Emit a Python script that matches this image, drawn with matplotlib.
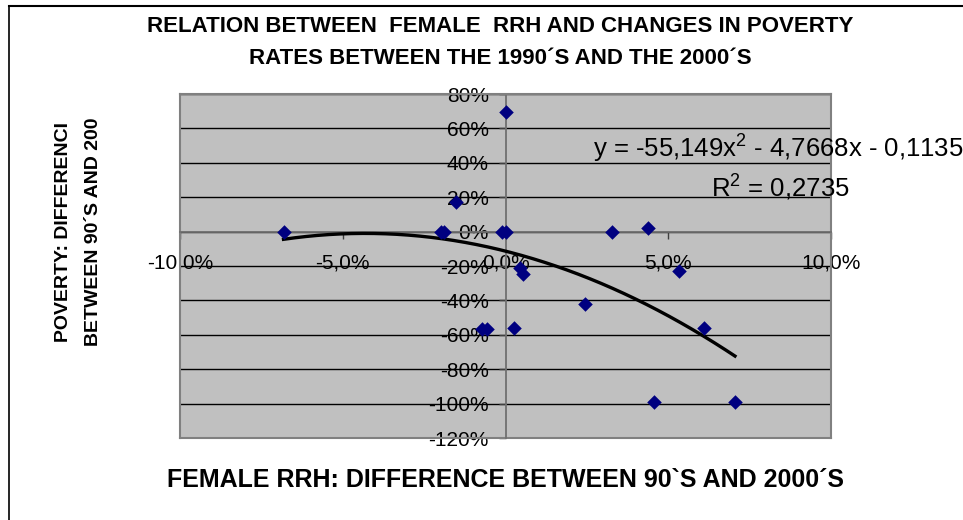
import numpy as np
import matplotlib
matplotlib.use("Agg")
import matplotlib.pyplot as plt
from matplotlib.lines import Line2D
from matplotlib.ticker import FuncFormatter

plt.rcParams['font.family'] = ['Liberation Sans', 'DejaVu Sans']
plt.rcParams['mathtext.fontset'] = 'custom'
plt.rcParams['mathtext.rm'] = 'Liberation Sans'

# change in female RRH (x) vs change in poverty rate (y), as fractions
rrh_change = [-0.0682, -0.0199, -0.0189, -0.0153, -0.0010, 0.0002, 0.0,
              0.0045, 0.0053, 0.0245, -0.0072, -0.0056, 0.0025,
              0.0327, 0.0437, 0.0532, 0.0609, 0.0455, 0.0705]
poverty_change = [0.0, 0.0, 0.0, 0.17, 0.0, 0.0, 0.694,
                  -0.21, -0.245, -0.42, -0.567, -0.567, -0.56,
                  0.0, 0.021, -0.227, -0.562, -0.992, -0.992]

# polynomial trendline (order 2) as shown on the chart
trend_coef = [-55.149, -4.7668, -0.1135]
r_squared = "0,2735"

x_ticks = [-0.10, -0.05, 0.0, 0.05, 0.10]
y_ticks = [0.8, 0.6, 0.4, 0.2, 0.0, -0.2, -0.4, -0.6, -0.8, -1.0, -1.2]

fig = plt.figure(figsize=(9.63, 5.2), dpi=100)
ax = fig.add_axes([180 / 963, 1 - 438 / 520, 651 / 963, 344 / 520])

ax.set_facecolor('#c0c0c0')
ax.set_xlim(-0.10, 0.10)
ax.set_ylim(-1.2, 0.8)

for yv in y_ticks:
    ax.axhline(yv, color='black', lw=1.0, zorder=1)

xs = np.linspace(min(rrh_change), max(rrh_change), 200)
ax.plot(xs, np.polyval(trend_coef, xs), color='black', lw=2.4, zorder=3)
ax.scatter(rrh_change, poverty_change, marker='D', s=55, color='#000080',
           zorder=4, linewidths=0)

for side in ['top', 'right']:
    ax.spines[side].set_color('#808080')
    ax.spines[side].set_linewidth(1.5)
ax.spines['left'].set_position(('data', 0))
ax.spines['bottom'].set_position(('data', 0))
ax.spines['left'].set_color('#707070')
ax.spines['bottom'].set_color('#707070')
ax.spines['left'].set_linewidth(1.3)
ax.spines['bottom'].set_linewidth(1.3)
# outer border of plot area
ax.add_line(Line2D([0, 0], [0, 1], transform=ax.transAxes, color='#808080', lw=1.5, clip_on=False))
ax.add_line(Line2D([0, 1], [0, 0], transform=ax.transAxes, color='#808080', lw=1.5, clip_on=False))

ax.set_xticks(x_ticks)
ax.set_yticks(y_ticks)
ax.xaxis.set_major_formatter(FuncFormatter(lambda v, p: ('%.1f%%' % (v * 100)).replace('.', ',')))
ax.yaxis.set_major_formatter(FuncFormatter(lambda v, p: '%d%%' % round(v * 100)))
ax.tick_params(axis='x', direction='out', length=5, width=1, color='#404040',
               labelsize=15, pad=11)
ax.tick_params(axis='y', direction='out', length=5, width=1, color='#404040',
               labelsize=15, pad=7)

fig.text(593 / 963, 1 - 148 / 520, "y = -55,149x$^2$ - 4,7668x - 0,1135", fontsize=18.5,
         ha='left', va='center', zorder=5)
fig.text(850 / 963, 1 - 187 / 520, "R$^2$ = " + r_squared, fontsize=18.5,
         ha='right', va='center', zorder=5)

fig.text(500 / 963, 1 - 27 / 520, "RELATION BETWEEN  FEMALE  RRH AND CHANGES IN POVERTY",
         ha='center', va='center', fontsize=16, fontweight='bold')
fig.text(500 / 963, 1 - 59 / 520, "RATES BETWEEN THE 1990\u00b4S AND THE 2000\u00b4S",
         ha='center', va='center', fontsize=16, fontweight='bold')
fig.text(505 / 963, 1 - 480 / 520, "FEMALE RRH: DIFFERENCE BETWEEN 90`S AND 2000\u00b4S",
         ha='center', va='center', fontsize=18, fontweight='bold')
fig.text(64 / 963, 1 - 232 / 520, "POVERTY: DIFFERENCI", rotation=90,
         ha='center', va='center', fontsize=14, fontweight='bold')
fig.text(93 / 963, 1 - 232 / 520, "BETWEEN 90\u00b4S AND 200", rotation=90,
         ha='center', va='center', fontsize=14, fontweight='bold')

# chart frame (left and top edges visible)
fig.add_artist(Line2D([9 / 963, 9 / 963], [0, 1 - 6 / 520], transform=fig.transFigure,
                      color='black', lw=1.2))
fig.add_artist(Line2D([9 / 963, 1], [1 - 6 / 520, 1 - 6 / 520], transform=fig.transFigure,
                      color='black', lw=1.5))

fig.savefig('out.png', dpi=100)
